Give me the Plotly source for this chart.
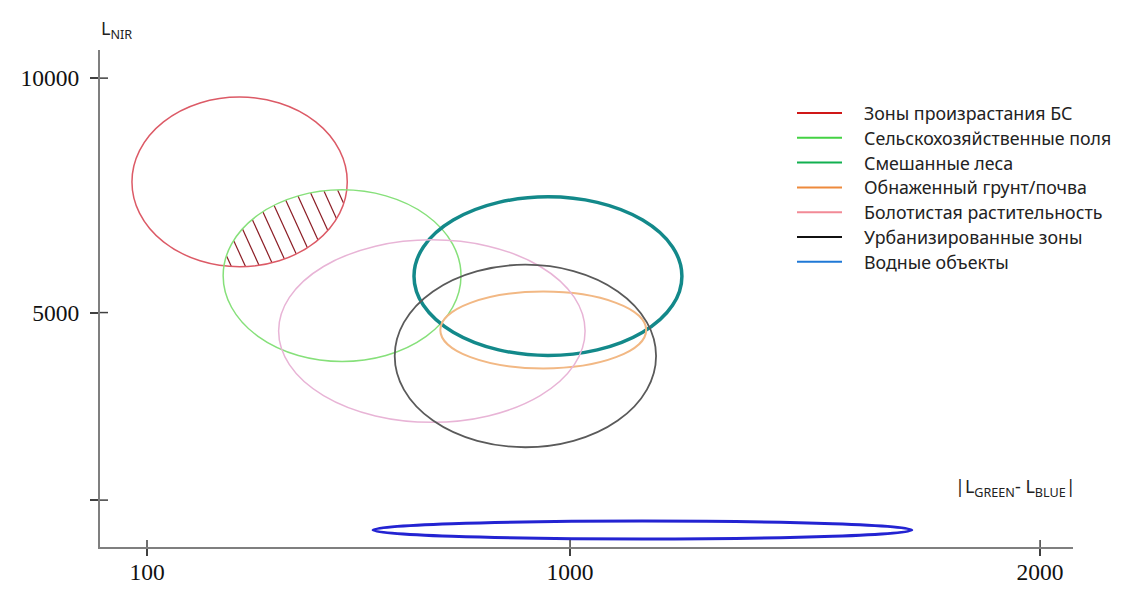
import numpy as np
import plotly.graph_objects as go

# legend labels (same order as the ellipses below)
zone_labels = [
    "Зоны произрастания БС",
    "Сельскохозяйственные поля",
    "Смешанные леса",
    "Обнаженный грунт/почва",
    "Болотистая растительность",
    "Урбанизированные зоны",
    "Водные объекты",
]
legend_colors = ["#d01818", "#44d244", "#12b050", "#ee8a3c", "#f28a96", "#111111", "#1f78d6"]

# ellipse of each zone: centre and half-axes in data units
center_x = [297, 515, 953, 943, 706, 905, 1154]
center_y = [7787, 5787, 5777, 4628, 4606, 4074, 362]
radius_x = [229, 253, 285, 219, 326, 278, 573]
radius_y = [1809, 1830, 1691, 819, 1947, 1947, 191]
ellipse_colors = ["#dc5a66", "#86e07a", "#13898a", "#f2b884", "#e8b4d6", "#5a5a5a", "#2323d2"]
ellipse_widths = [1.5, 1.5, 3.5, 2, 1.5, 1.8, 3]

x_ticks = [100, 1000, 2000]
y_ticks = [1000, 5000, 10000]
y_tick_text = ["", "5000", "10000"]

# hatch inside (БС zone ∩ agricultural fields)
hatch_ref_y = 6500
hatch_slope = -22
hatch_offsets = np.arange(316 - 30 * 6, 316 + 30 * 10, 30)

AXIS_GREY = "#7f7f7f"
TICK_GREY = "#404040"

# page body has an 8px margin at top/left; the figure fills the rest of the window
PAGE_PAD = 8
FIG_W, FIG_H = 1141 - PAGE_PAD, 591 - PAGE_PAD


def inside(xs, ys, i):
    return ((xs - center_x[i]) / radius_x[i]) ** 2 + ((ys - center_y[i]) / radius_y[i]) ** 2 <= 1


hatch_x, hatch_y = [], []
for x0 in hatch_offsets:
    xs = np.linspace(x0 - 200, x0 + 200, 800)
    ys = hatch_ref_y + hatch_slope * (xs - x0)
    mask = inside(xs, ys, 0) & inside(xs, ys, 1)
    if mask.sum() > 1:
        hatch_x += [xs[mask][0], xs[mask][-1], None]
        hatch_y += [ys[mask][0], ys[mask][-1], None]

fig = go.Figure()
fig.add_trace(
    go.Scatter(
        x=hatch_x,
        y=hatch_y,
        mode="lines",
        line={"color": "#8b1c24", "width": 1.2},
        hoverinfo="skip",
        showlegend=False,
    )
)

shapes = []
for cx, cy, rx, ry, color, width in zip(
    center_x, center_y, radius_x, radius_y, ellipse_colors, ellipse_widths
):
    shapes.append(
        dict(
            type="circle",
            xref="x",
            yref="y",
            x0=cx - rx,
            x1=cx + rx,
            y0=cy - ry,
            y1=cy + ry,
            line={"color": color, "width": width},
        )
    )

# inner half of the crossing tick marks (outer half comes from the axes)
for xv in x_ticks:
    shapes.append(
        dict(
            type="line", xref="x", yref="y", x0=xv, x1=xv,
            ysizemode="pixel", yanchor=0, y0=0, y1=7,
            line={"color": TICK_GREY, "width": 1.5},
        )
    )
for yv in y_ticks:
    shapes.append(
        dict(
            type="line", xref="x", yref="y", y0=yv, y1=yv,
            xsizemode="pixel", xanchor=0, x0=0, x1=8,
            line={"color": TICK_GREY, "width": 1.5},
        )
    )

# plot area in page pixels (as seen in the screenshot)
plot_l, plot_r, plot_t, plot_b = 100, 1073, 50, 547
pw, ph = plot_r - plot_l, plot_b - plot_t


def px_x(p):
    return (p - plot_l) / pw


def px_y(p):
    return (plot_b - p) / ph


annotations = []
for i, (label, color) in enumerate(zip(zone_labels, legend_colors)):
    row = 113 + i * 24.8
    shapes.append(
        dict(
            type="line", xref="paper", yref="paper",
            x0=px_x(797), x1=px_x(842), y0=px_y(row), y1=px_y(row),
            line={"color": color, "width": 2},
        )
    )
    annotations.append(
        dict(
            text=label, xref="paper", yref="paper", x=px_x(862), y=px_y(row),
            xanchor="left", yanchor="middle", showarrow=False,
            font={"family": "Noto Sans", "size": 17.8, "color": "#222222"},
        )
    )

annotations.append(
    dict(
        text="L<sub>NIR</sub>", xref="paper", yref="paper", x=px_x(99), y=px_y(30),
        xanchor="left", yanchor="middle", showarrow=False,
        font={"family": "Noto Sans", "size": 18, "color": "#222222"},
    )
)
annotations.append(
    dict(
        text="|L<sub>GREEN</sub>- L<sub>BLUE</sub>|", xref="paper", yref="paper",
        x=px_x(1078), y=px_y(487), xanchor="right", yanchor="middle", showarrow=False,
        font={"family": "Noto Sans", "size": 18, "color": "#222222"},
    )
)

tick_font = {"family": "Liberation Serif", "size": 23.5, "color": "#111111"}

fig.update_layout(
    width=FIG_W,
    height=FIG_H,
    paper_bgcolor="white",
    plot_bgcolor="white",
    margin={
        "l": plot_l - PAGE_PAD,
        "r": FIG_W - (plot_r - PAGE_PAD),
        "t": plot_t - PAGE_PAD,
        "b": FIG_H - (plot_b - PAGE_PAD),
    },
    showlegend=False,
    shapes=shapes,
    annotations=annotations,
    xaxis={
        "range": [0, 2070],
        "automargin": False,
        "showline": True,
        "linecolor": AXIS_GREY,
        "linewidth": 2,
        "showgrid": False,
        "zeroline": False,
        "ticks": "outside",
        "ticklen": 7,
        "tickwidth": 1.5,
        "tickcolor": TICK_GREY,
        "tickvals": x_ticks,
        "ticklabelstandoff": -4,
        "tickfont": tick_font,
    },
    yaxis={
        "range": [0, 10600],
        "automargin": False,
        "showline": True,
        "linecolor": AXIS_GREY,
        "linewidth": 2,
        "showgrid": False,
        "zeroline": False,
        "ticks": "outside",
        "ticklen": 8,
        "tickwidth": 1.5,
        "tickcolor": TICK_GREY,
        "tickvals": y_ticks,
        "ticktext": y_tick_text,
        "ticklabelstandoff": 6,
        "tickfont": tick_font,
    },
)

fig.write_html("out.html")
